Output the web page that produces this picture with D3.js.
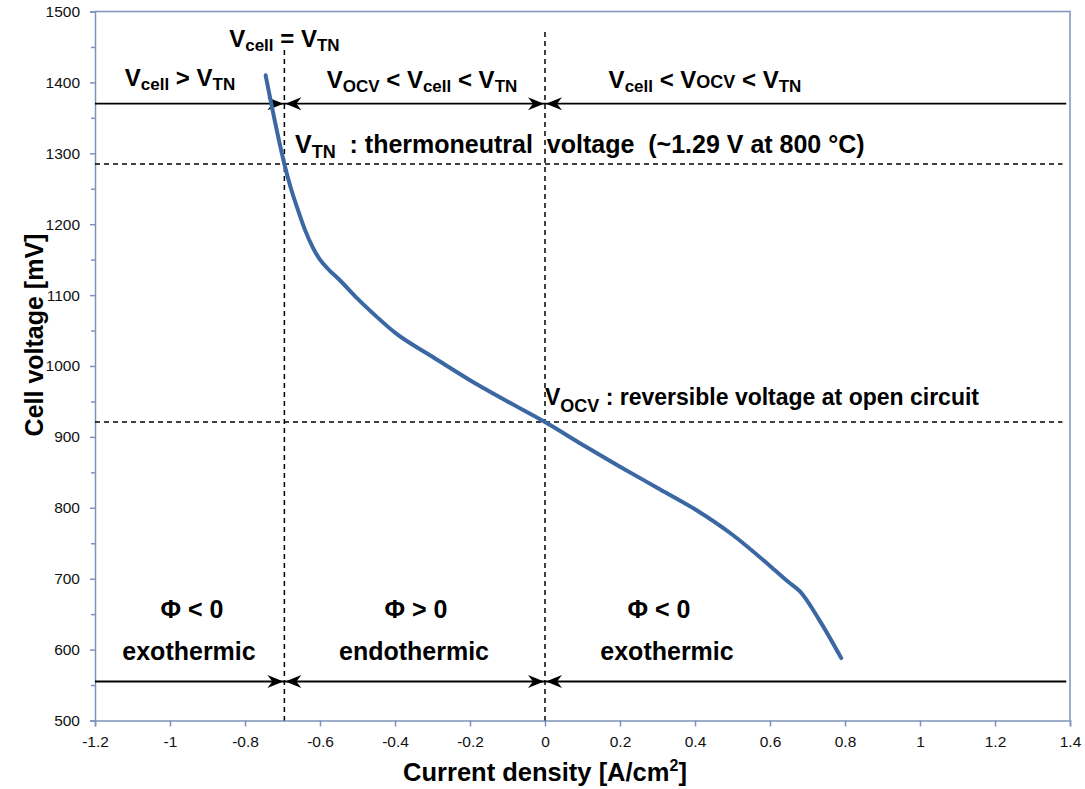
<!DOCTYPE html>
<html>
<head>
<meta charset="utf-8">
<script src="https://cdn.jsdelivr.net/npm/d3@7"></script>
<style>
  body { margin: 0; background: #fff; }
  svg { display: block; }
  .ann { font-family: "Liberation Sans", Arial, sans-serif; font-weight: bold; fill: #000; }
</style>
</head>
<body>
<div id="chart"></div>
<script>
// polarisation curve
const current = [-0.745, -0.73, -0.695, -0.68, -0.66, -0.64, -0.62, -0.60, -0.575, -0.547, -0.5, -0.45, -0.4, -0.3, -0.2, -0.1, 0, 0.1, 0.2, 0.3, 0.4, 0.5, 0.6, 0.65, 0.68, 0.73, 0.79];
const voltage = [1410, 1370, 1285, 1255, 1222, 1192, 1168, 1150, 1135, 1121, 1095, 1070, 1047, 1013, 980, 950, 921, 889, 858, 828, 798, 762, 718, 695, 682, 643, 588];

const xTicks = [-1.2, -1, -0.8, -0.6, -0.4, -0.2, 0, 0.2, 0.4, 0.6, 0.8, 1, 1.2, 1.4];
const yTicks = [500, 600, 700, 800, 900, 1000, 1100, 1200, 1300, 1400, 1500];
const yMinor = [550, 650, 750, 850, 950, 1050, 1150, 1250, 1350, 1450];

const vTN = 1285, vOCV = 921;       // mV
const jTN = -0.695, jOCV = 0;       // A/cm2
const arrowTop = 1370, arrowBottom = 555;

const W = 1085, H = 789;
const x = d3.scaleLinear().domain([-1.2, 1.4]).range([95, 1070]);
const y = d3.scaleLinear().domain([500, 1500]).range([720.5, 11.5]);

const svg = d3.select("#chart").append("svg").attr("width", W).attr("height", H);

const axisColor = "#7d92bd";

// axes
const gx = svg.append("g").attr("transform", "translate(0," + y(500) + ")")
  .call(d3.axisBottom(x).tickValues(xTicks).tickFormat(d => String(d)).tickSize(6).tickPadding(9));
const gy = svg.append("g").attr("transform", "translate(" + x(-1.2) + ",0)")
  .call(d3.axisLeft(y).tickValues(yTicks).tickFormat(d3.format("d")).tickSize(5).tickPadding(10));
svg.append("g").attr("transform", "translate(" + x(-1.2) + ",0)")
  .call(d3.axisLeft(y).tickValues(yMinor).tickFormat("").tickSize(4))
  .select(".domain").remove();
svg.selectAll(".domain, .tick line").attr("stroke", axisColor).attr("stroke-width", 1.5);
svg.selectAll(".tick text")
  .attr("font-family", "'Liberation Sans', Arial, sans-serif")
  .attr("font-size", 15.5).attr("fill", "#111");

// box top/right
svg.append("path")
  .attr("d", "M" + x(-1.2) + "," + y(1500) + "H" + x(1.4) + "V" + y(500))
  .attr("fill", "none").attr("stroke", axisColor).attr("stroke-width", 1.5);

// dashed reference lines
const dash = svg.append("g").attr("stroke", "#000").attr("stroke-width", 1.5).attr("stroke-dasharray", "5,4");
dash.append("line").attr("x1", x(-1.2)).attr("x2", x(1.38)).attr("y1", y(vTN)).attr("y2", y(vTN));
dash.append("line").attr("x1", x(-1.2)).attr("x2", x(1.38)).attr("y1", y(vOCV)).attr("y2", y(vOCV));
dash.append("line").attr("x1", x(jTN)).attr("x2", x(jTN)).attr("y1", 50).attr("y2", y(500));
dash.append("line").attr("x1", x(jOCV)).attr("x2", x(jOCV)).attr("y1", 32).attr("y2", y(500));

// arrow rows
function arrowHead(g, px, py, dir) {
  const L = 16, w = 6.5, n = 5;
  g.append("path")
    .attr("d", "M" + px + "," + py + "L" + (px - dir * L) + "," + (py - w) +
      "L" + (px - dir * (L - n)) + "," + py + "L" + (px - dir * L) + "," + (py + w) + "Z")
    .attr("fill", "#000");
}
[arrowTop, arrowBottom].forEach(v => {
  const g = svg.append("g");
  const yy = y(v);
  g.append("line").attr("x1", x(-1.2)).attr("x2", x(1.39)).attr("y1", yy).attr("y2", yy)
    .attr("stroke", "#000").attr("stroke-width", 1.8);
  arrowHead(g, x(jTN) - 1, yy, 1);
  arrowHead(g, x(jTN) + 1, yy, -1);
  arrowHead(g, x(jOCV) - 1, yy, 1);
  arrowHead(g, x(jOCV) + 1, yy, -1);
});

// curve
const pts = current.map((c, i) => [c, voltage[i]]);
svg.append("path")
  .datum(pts)
  .attr("d", d3.line().x(d => x(d[0])).y(d => y(d[1])).curve(d3.curveMonotoneX))
  .attr("fill", "none").attr("stroke", "#3b68a3").attr("stroke-width", 4)
  .attr("stroke-linecap", "round");

// rich text helper: segments [text, kind, shift] kind: "n" normal, "s" subscript, "m" small, "p" superscript
function rich(px, py, segs, anchor, size, sub) {
  const fs = size || 25, ss = sub || 18;
  const t = svg.append("text").attr("class", "ann").attr("x", px).attr("y", py)
    .attr("text-anchor", anchor || "start").style("font-size", fs + "px")
    .style("white-space", "pre");
  let shift = 0;
  segs.forEach(([s, k, d]) => {
    const sp = t.append("tspan").text(s);
    let target = 0;
    if (k === "s") { sp.style("font-size", ss + "px"); target = d || 4; }
    else if (k === "m") { sp.style("font-size", (ss + 1) + "px"); }
    else if (k === "p") { sp.style("font-size", "16px"); target = -10; }
    sp.attr("dy", target - shift);
    shift = target;
  });
  return t;
}

rich(x(jTN), 47, [["V", "n"], ["cell", "s"], [" = V", "n"], ["TN", "s"]], "middle", 24, 17);
rich(180, 86, [["V", "n"], ["cell", "s"], [" > V", "n"], ["TN", "s"]], "middle", 24, 17);
rich(422, 88, [["V", "n"], ["OCV", "s"], [" < V", "n"], ["cell", "s"], [" < V", "n"], ["TN", "s"]], "middle", 24, 17);
rich(705, 88, [["V", "n"], ["cell", "s"], [" < V", "n"], ["OCV", "m"], [" < V", "n"], ["TN", "s"]], "middle", 24, 17);
rich(295, 153, [["V", "n"], ["TN", "s", 5], ["  : thermoneutral  voltage  (~1.29 V at 800 °C)", "n"]], "start");
rich(545, 405, [["V", "n"], ["OCV", "s", 7], [" : reversible voltage at open circuit", "n"]], "start", 23);

rich(192, 618, [["Φ < 0", "n"]], "middle");
rich(189, 660, [["exothermic", "n"]], "middle");
rich(416, 618, [["Φ > 0", "n"]], "middle");
rich(414, 660, [["endothermic", "n"]], "middle");
rich(659, 618, [["Φ < 0", "n"]], "middle");
rich(667, 660, [["exothermic", "n"]], "middle");

// axis titles
rich(545, 781, [["Current density [A/cm", "n"], ["2", "p"], ["]", "n"]], "middle", 25.5);
svg.append("text").attr("class", "ann")
  .attr("transform", "translate(43,335) rotate(-90)")
  .attr("text-anchor", "middle").style("font-size", "25px")
  .text("Cell voltage [mV]");
</script>
</body>
</html>
